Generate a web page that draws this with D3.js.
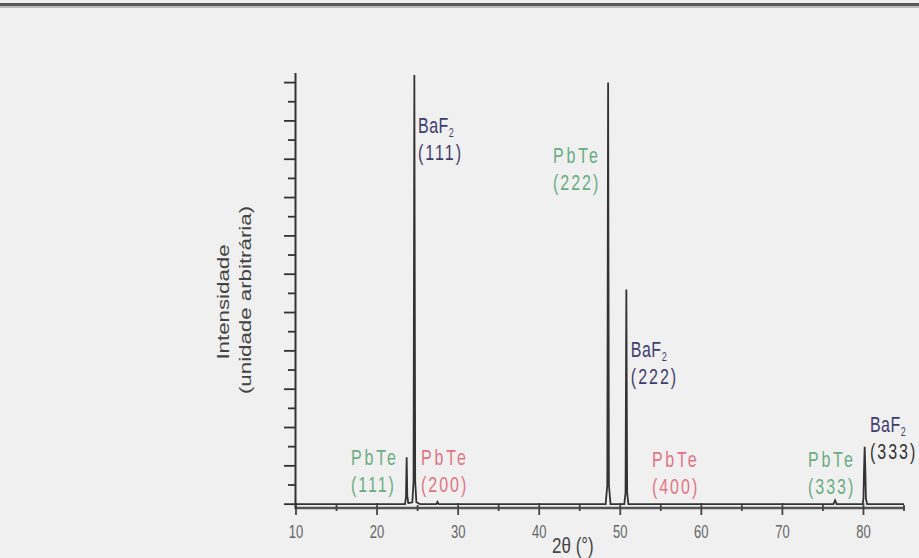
<!DOCTYPE html>
<html>
<head>
<meta charset="utf-8">
<script src="https://cdn.jsdelivr.net/npm/d3@7"></script>
<style>
  body { margin: 0; background: #f0f0f0; }
  svg { display: block; }
  text { font-family: "Liberation Sans", Arial, sans-serif; }
</style>
</head>
<body>
<svg id="chart" width="919" height="558"></svg>
<script>
// diffractogram: 2θ (deg) and intensity (arb. units)
const twoTheta = [10, 23.45, 23.57, 23.65, 23.73, 23.85, 24.35, 24.5, 24.6, 24.7, 24.85, 25.3,
  27.3, 27.45, 27.6, 48.2, 48.4, 48.5, 48.6, 48.8, 50.5, 50.65, 50.75, 50.85, 51.0,
  76.3, 76.5, 76.7, 79.9, 80.0, 80.07, 80.15, 80.23, 80.3, 80.45, 85];
const intensity = [0, 0, 0.4, 2.45, 0.4, 0.05, 0.1, 1.2, 22.4, 1.2, 0.1, 0,
  0, 0.12, 0, 0, 1.0, 22.0, 1.0, 0, 0, 0.6, 11.2, 0.6, 0,
  0, 0.2, 0, 0, 0.3, 1.8, 3.0, 1.8, 0.3, 0, 0];

const xTicks = [10, 20, 30, 40, 50, 60, 70, 80];
const xMinor = [15, 25, 35, 45, 55, 65, 75, 85];
const yTicks = d3.range(0, 23);

// peak annotations
const labelPhase = ["PbTe", "BaF", "PbTe", "PbTe", "BaF", "PbTe", "PbTe", "BaF"];
const labelHkl = ["(111)", "(111)", "(200)", "(222)", "(222)", "(400)", "(333)", "(333)"];
const labelKind = ["g", "b", "r", "g", "b", "r", "g", "b"];
const labelAt2t = [16.78, 25.05, 25.42, 41.7, 51.3, 53.9, 73.15, 80.8];
const labelAtI = [2.05, 19.37, 2.05, 17.8, 7.67, 1.94, 1.94, 3.77];

const kindColor = { g: "#6aad84", b: "#3f3d6e", r: "#e07486" };

const svg = d3.select("#chart");
const x = d3.scaleLinear().domain([10, 85]).range([296, 904]);
const y = d3.scaleLinear().domain([-0.2, 22.5]).range([508, 73]);
const S = 1.35; // the picture is stretched vertically

// top border of the scanned page
svg.append("rect").attr("x", 0).attr("y", 3).attr("width", 919).attr("height", 3)
  .attr("fill", "#5a5a5a");
svg.append("rect").attr("x", 0).attr("y", 6).attr("width", 919).attr("height", 2)
  .attr("fill", "#bbb");

// data line
const pts = twoTheta.map((t, i) => [t, intensity[i]]);
svg.append("path")
  .datum(pts)
  .attr("fill", "none")
  .attr("stroke", "#333")
  .attr("stroke-width", 1.8)
  .attr("d", d3.line().x(d => x(d[0])).y(d => y(d[1])));

// x axis
const gx = svg.append("g");
gx.append("line").attr("x1", 295).attr("x2", x(85) + 1).attr("y1", 508).attr("y2", 508)
  .attr("stroke", "#555").attr("stroke-width", 2.5);
gx.selectAll("line.maj").data(xTicks).enter().append("line")
  .attr("x1", d => x(d)).attr("x2", d => x(d)).attr("y1", 503).attr("y2", 515)
  .attr("stroke", "#444").attr("stroke-width", 1.8);
gx.selectAll("line.min").data(xMinor).enter().append("line")
  .attr("x1", d => x(d)).attr("x2", d => x(d)).attr("y1", 505).attr("y2", 511)
  .attr("stroke", "#444").attr("stroke-width", 1.8);
gx.selectAll("text").data(xTicks).enter().append("text")
  .attr("transform", d => "translate(" + [x(d), 538] + ") scale(1," + S + ")")
  .attr("text-anchor", "middle")
  .attr("font-size", 13)
  .attr("fill", "#666")
  .text(d => d);

const xt = svg.append("text")
  .attr("transform", "translate(552,553) scale(1," + S + ")")
  .attr("font-size", 17)
  .attr("fill", "#444");
xt.append("tspan").text("2θ ");
xt.append("tspan").text("(°)");

// y axis
const gy = svg.append("g");
gy.append("line").attr("x1", 295.5).attr("x2", 295.5).attr("y1", 73).attr("y2", 509)
  .attr("stroke", "#333").attr("stroke-width", 2);
gy.selectAll("line.t").data(yTicks).enter().append("line")
  .attr("x1", d => d % 2 === 0 ? 284 : 288).attr("x2", 295)
  .attr("y1", d => y(d)).attr("y2", d => y(d))
  .attr("stroke", "#333").attr("stroke-width", 1.8);

svg.append("text")
  .attr("transform", "translate(229,302) rotate(-90) scale(" + S + ",1)")
  .attr("text-anchor", "middle")
  .attr("font-size", 16.5)
  .attr("fill", "#444")
  .text("Intensidade");
svg.append("text")
  .attr("transform", "translate(251,300) rotate(-90) scale(" + S + ",1)")
  .attr("text-anchor", "middle")
  .attr("font-size", 16.5)
  .attr("fill", "#444")
  .text("(unidade arbitrária)");

// peak labels
labelPhase.forEach((p, i) => {
  const lx = x(labelAt2t[i]), ly = y(labelAtI[i]);
  const col = kindColor[labelKind[i]];
  const spacing = p === "PbTe" ? 2.8 : 0.5;
  const t1 = svg.append("text")
    .attr("transform", "translate(" + [lx, ly] + ") scale(1," + S + ")")
    .attr("font-size", 16)
    .attr("letter-spacing", spacing)
    .attr("fill", col);
  t1.append("tspan").text(p);
  if (p === "BaF") {
    t1.append("tspan").attr("font-size", 9).attr("dy", 3).text("2");
  }
  svg.append("text")
    .attr("transform", "translate(" + [lx, ly + 27] + ") scale(1," + S + ")")
    .attr("font-size", 16)
    .attr("letter-spacing", 2)
    .attr("fill", labelKind[i] === "b" && i === 7 ? "#333" : col)
    .text(labelHkl[i]);
});
</script>
</body>
</html>
